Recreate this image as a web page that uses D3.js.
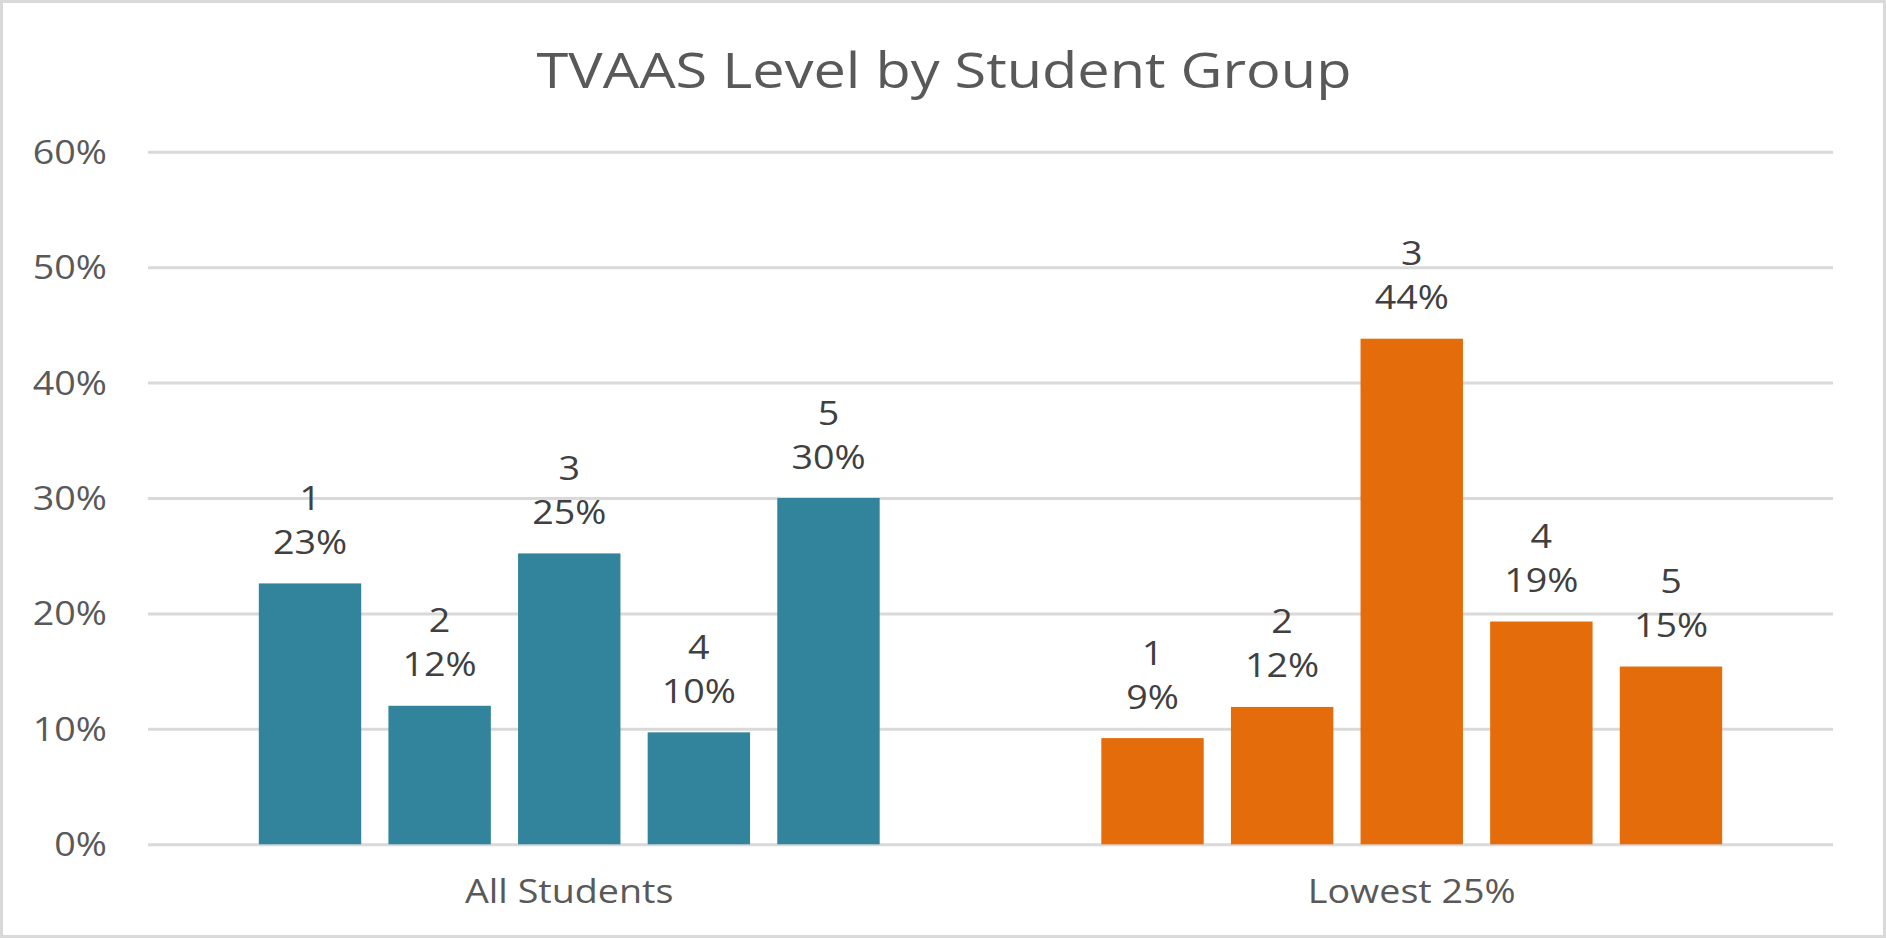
<!DOCTYPE html>
<html>
<head>
<meta charset="utf-8">
<script src="https://cdn.jsdelivr.net/npm/d3@7"></script>
<style>
  html, body { margin: 0; padding: 0; background: #ffffff; }
  svg { display: block; }
  text { font-family: "Open Sans", "Noto Sans", sans-serif; }
</style>
</head>
<body>
<svg id="chart" width="1886" height="939"></svg>
<script>
// ---- data ----
const chartTitle = "TVAAS Level by Student Group";
const groups = ["All Students", "Lowest 25%"];
const levels = ["1", "2", "3", "4", "5"];
const allStudents = [0.226, 0.120, 0.252, 0.097, 0.300];
const lowest25 = [0.092, 0.119, 0.438, 0.193, 0.154];
const yTicks = [0, 0.1, 0.2, 0.3, 0.4, 0.5, 0.6];
const groupColors = ["#31849B", "#E46C0A"];

const seriesByGroup = [allStudents, lowest25];

(function () {
// ---- layout ----
const W = 1886, H = 939;
const plotLeft = 148, plotRight = 1833, plotTop = 151.7, plotBottom = 844.3;

const svg = d3.select("#chart");

// outer border
svg.append("rect")
  .attr("x", 1.5).attr("y", 1.5)
  .attr("width", W - 3).attr("height", H - 4)
  .attr("fill", "#ffffff")
  .attr("stroke", "#D9D9D9").attr("stroke-width", 3);

// title & global horizontal stretch factor (source image is stretched)
const titleText = svg.append("text")
  .attr("text-anchor", "middle")
  .attr("font-size", 49)
  .attr("fill", "#595959")
  .text(chartTitle);
const measured = titleText.node().getComputedTextLength();
const sx = measured > 0 ? 815 / measured : 1.18;
titleText.attr("transform", `translate(944,88.3) scale(${sx},1)`);

const x0 = d3.scaleBand().domain(groups).range([plotLeft, plotRight]).padding(0);
const x1 = d3.scaleBand().domain(levels).range([0, x0.bandwidth()])
  .paddingInner(0.21).paddingOuter(0.855);
const y = d3.scaleLinear().domain([0, 0.6]).range([plotBottom, plotTop]);

// gridlines + y tick labels via axis
const yAxis = d3.axisLeft(y)
  .tickValues(yTicks)
  .tickSize(-(plotRight - plotLeft))
  .tickFormat(d3.format(".0%"));
const ag = svg.append("g")
  .attr("transform", `translate(${plotLeft},0)`)
  .call(yAxis);
ag.select(".domain").remove();
ag.selectAll(".tick line")
  .attr("stroke", "#D9D9D9").attr("stroke-width", 3);
ag.selectAll(".tick text")
  .attr("x", null).attr("dy", null)
  .attr("transform", `translate(-41,11.5) scale(${sx},1)`)
  .attr("font-size", 32)
  .attr("font-family", "Open Sans, Noto Sans, sans-serif")
  .attr("fill", "#595959")
  .attr("text-anchor", "end");

// bars
const gGroups = svg.selectAll("g.grp")
  .data(groups.map((g, i) => ({ g, i, vals: seriesByGroup[i] })))
  .enter().append("g")
  .attr("class", "grp")
  .attr("transform", d => `translate(${x0(d.g)},0)`);

gGroups.selectAll("rect.bar")
  .data(d => d.vals.map((v, j) => ({ v, level: levels[j], color: groupColors[d.i] })))
  .enter().append("rect")
  .attr("class", "bar")
  .attr("x", d => x1(d.level))
  .attr("width", x1.bandwidth())
  .attr("y", d => y(d.v))
  .attr("height", d => y(0) - y(d.v))
  .attr("fill", d => d.color);

// data labels (two lines: level, percent)
const pct = d3.format(".0%");
gGroups.selectAll("g.lbl")
  .data(d => d.vals.map((v, j) => ({ v, level: levels[j] })))
  .enter().append("g")
  .attr("class", "lbl")
  .each(function(d) {
    const cx = x1(d.level) + x1.bandwidth() / 2;
    const ty = y(d.v);
    const g = d3.select(this);
    g.append("text")
      .attr("text-anchor", "middle")
      .attr("font-size", 32)
      .attr("fill", "#404040")
      .attr("transform", `translate(${cx},${ty - 73.5}) scale(${sx},1)`)
      .text(d.level);
    g.append("text")
      .attr("text-anchor", "middle")
      .attr("font-size", 32)
      .attr("fill", "#404040")
      .attr("transform", `translate(${cx},${ty - 29.5}) scale(${sx},1)`)
      .text(pct(d.v));
  });

// category labels
svg.selectAll("text.cat")
  .data(groups)
  .enter().append("text")
  .attr("class", "cat")
  .attr("text-anchor", "middle")
  .attr("font-size", 32)
  .attr("fill", "#595959")
  .attr("transform", d => `translate(${x0(d) + x0.bandwidth() / 2},903.3) scale(${sx},1)`)
  .text(d => d);
})();
</script>
</body>
</html>
